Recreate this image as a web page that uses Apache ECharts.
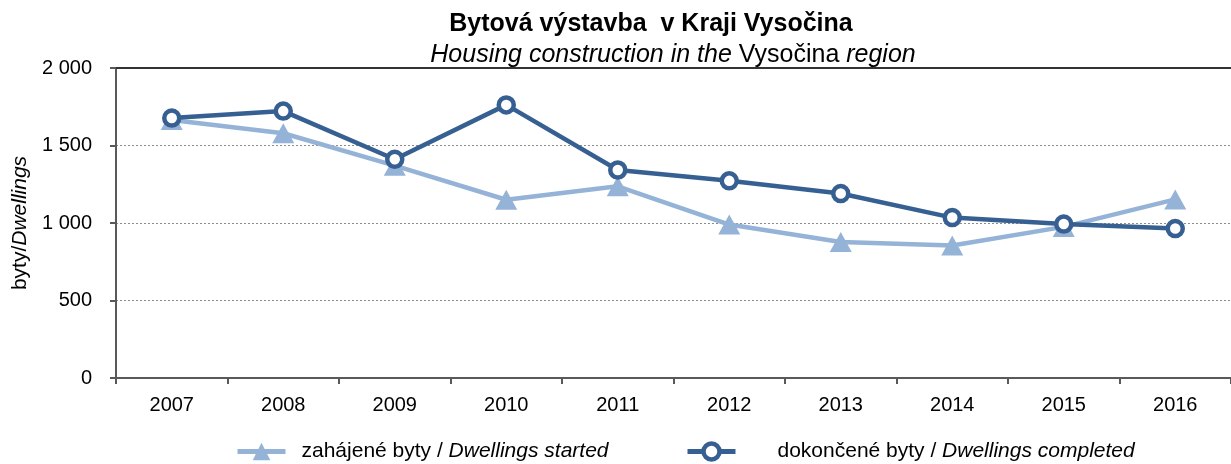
<!DOCTYPE html>
<html>
<head>
<meta charset="utf-8">
<script src="https://cdn.jsdelivr.net/npm/echarts@6/dist/echarts.min.js"></script>
<style>html,body{margin:0;padding:0;background:#fff}#c{width:1231px;height:464px}</style>
</head>
<body>
<div id="c"></div>
<script>
const years = ['2007','2008','2009','2010','2011','2012','2013','2014','2015','2016'];
const started = [1665, 1579, 1370, 1150, 1237, 990, 878, 855, 975, 1152];
const completed = [1677, 1722, 1411, 1762, 1342, 1272, 1190, 1035, 993, 964];
const yTicks = [0, 500, 1000, 1500, 2000];
const seriesNames = ['zahájené byty / Dwellings started', 'dokončené byty / Dwellings completed'];

const FONT = '"Liberation Sans", Arial, sans-serif';
const LS = 21;
function legendFmt(name) {
  const parts = name.split(' / ');
  return '{n|' + parts[0] + ' / }{i|' + parts[1] + '}';
}
function legendText(pad) {
  return {
    fontFamily: FONT, fontSize: LS, color: '#000',
    rich: {
      n: {fontFamily: FONT, fontSize: LS, color: '#000', padding: [0, 0, 0, pad]},
      i: {fontFamily: FONT, fontSize: LS, fontStyle: 'italic', color: '#000'}
    }
  };
}
const chart = echarts.init(document.getElementById('c'), null, {renderer: 'canvas'});
chart.setOption({
  animation: false,
  backgroundColor: '#fff',
  title: [
    {
      text: 'Bytová výstavba  v Kraji Vysočina',
      left: 646, top: 7, textAlign: 'center',
      textStyle: {fontFamily: FONT, fontWeight: 'bold', fontSize: 25, color: '#000'}
    },
    {
      text: '{i|Housing construction in the} {n|Vysočina} {i|region}',
      left: 668, top: 38, textAlign: 'center',
      textStyle: {
        fontFamily: FONT, fontSize: 25, fontWeight: 'normal', color: '#000',
        rich: {
          i: {fontFamily: FONT, fontStyle: 'italic', fontWeight: 'normal', fontSize: 25, color: '#000'},
          n: {fontFamily: FONT, fontStyle: 'normal', fontWeight: 'normal', fontSize: 25, color: '#000'}
        }
      }
    }
  ],
  grid: {left: 116, right: 0, top: 68, bottom: 86, containLabel: false},
  legend: [
    {
      top: 441, left: 235, padding: 0,
      itemWidth: 48, itemHeight: 22,
      data: [seriesNames[0]],
      formatter: legendFmt,
      lineStyle: {width: 5},
      textStyle: legendText(11)
    },
    {
      top: 441, left: 685, padding: 0,
      itemWidth: 48, itemHeight: 20,
      data: [seriesNames[1]],
      formatter: legendFmt,
      lineStyle: {width: 5},
      itemStyle: {borderWidth: 4.5},
      textStyle: legendText(37)
    }
  ],
  xAxis: [
    {
      type: 'category',
      data: years,
      boundaryGap: true,
      axisLine: {lineStyle: {color: '#595959', width: 2}},
      axisTick: {show: true, length: 6, lineStyle: {color: '#595959', width: 2}},
      axisLabel: {fontFamily: FONT, fontSize: 20, color: '#000', margin: 17}
    },
    {
      type: 'category',
      data: years,
      position: 'top',
      boundaryGap: true,
      axisLine: {show: true, lineStyle: {color: '#333', width: 2}},
      axisTick: {show: false},
      axisLabel: {show: false},
      splitLine: {show: false}
    }
  ],
  yAxis: {
    type: 'value',
    min: 0, max: 2000, interval: 500,
    name: '{n|byty/}{i|Dwellings}',
    nameLocation: 'middle', nameRotate: 90, nameGap: 82,
    nameTextStyle: {
      fontFamily: FONT, fontSize: 21, color: '#000',
      rich: {
        n: {fontFamily: FONT, fontSize: 21, color: '#000'},
        i: {fontFamily: FONT, fontSize: 21, fontStyle: 'italic', color: '#000'}
      }
    },
    axisLine: {show: true, lineStyle: {color: '#595959', width: 2}},
    axisTick: {show: true, length: 6, lineStyle: {color: '#595959', width: 2}},
    axisLabel: {
      fontFamily: FONT, fontSize: 20, color: '#000', margin: 24,
      formatter: function (v) { return String(v).replace(/\B(?=(\d{3})+(?!\d))/g, ' '); }
    },
    splitLine: {show: true, lineStyle: {color: '#8c8c8c', type: [2, 2], width: 1}}
  },
  series: [
    {
      name: seriesNames[0], type: 'line', data: started,
      symbol: 'triangle', symbolSize: [22, 20],
      lineStyle: {color: '#95B3D7', width: 4.5},
      itemStyle: {color: '#95B3D7', borderWidth: 0},
      z: 2
    },
    {
      name: seriesNames[1], type: 'line', data: completed,
      symbol: 'circle', symbolSize: 15,
      lineStyle: {color: '#376092', width: 4.5},
      itemStyle: {color: '#fff', borderColor: '#376092', borderWidth: 4.5},
      z: 3
    }
  ]
});
</script>
</body>
</html>
